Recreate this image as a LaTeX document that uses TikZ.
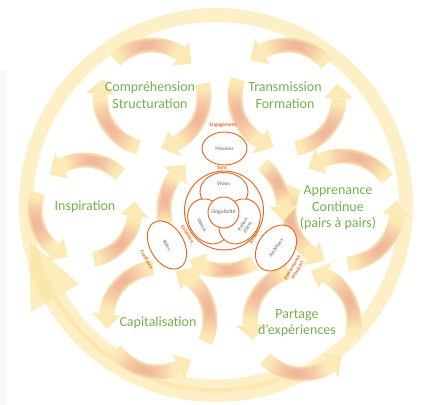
\documentclass[tikz,border=0pt]{standalone}
\usepackage{fontspec}
\setmainfont{Carlito}
\usetikzlibrary{calc}
\definecolor{arcY}{RGB}{252,234,182}
\definecolor{arcP}{RGB}{240,138,138}
\definecolor{ringY}{RGB}{252,228,160}
\definecolor{lblG}{RGB}{118,176,78}
\definecolor{orgL}{RGB}{230,104,34}
\definecolor{txtG}{RGB}{88,100,84}
% #1,#2 centre, #3 radius, #4 start angle, #5 end angle (arrow at end)
\newcommand{\garc}[5]{%
 \pgfmathsetmacro{\gS}{#4}%
 \pgfmathsetmacro{\gE}{#5}%
 \pgfmathsetmacro{\gD}{ifthenelse(#5>#4,1,-1)*15/(#3)*57.296}%
 \pgfmathsetmacro{\gB}{\gE-\gD}%
 \pgfmathsetmacro{\gM}{(\gS+\gB)/2}%
 \pgfmathsetmacro{\gL}{abs(\gB-\gS)/2}%
 \draw[line width=15pt,arcY] ($(#1,#2)+(\gS:#3)$) arc[start angle=\gS,end angle=\gB,radius=#3];
 \fill[arcY] ($(#1,#2)+(\gB:#3-14.5)$) -- ($(#1,#2)+(\gE:#3)$) -- ($(#1,#2)+(\gB:#3+14.5)$) -- cycle;
 \foreach \k in {0,...,11}{%
   \pgfmathsetmacro{\gh}{\gL*(0.8-0.062*\k)}%
   \pgfmathsetmacro{\gw}{15-0.8*\k}%
   \draw[line width=\gw pt,arcP,opacity=0.055] ($(#1,#2)+(\gM-\gh:#3)$) arc[start angle=\gM-\gh,end angle=\gM+\gh,radius=#3];
 }%
}
\tikzset{
 lbl/.style={text=lblG,font=\fontsize{14}{16.5}\selectfont,align=center,inner sep=0pt},
 small/.style={text=txtG,font=\fontsize{5.2}{5.8}\selectfont,align=center,inner sep=0pt},
 otext/.style={text=orgL,font=\bfseries\fontsize{5.2}{5.8}\selectfont,align=center,inner sep=0pt},
 oline/.style={draw=orgL,line width=0.95pt,fill=white}
}
\begin{document}
\begin{tikzpicture}[x=1pt,y=1pt]
\useasboundingbox (0,0) rectangle (424,405);
\fill[black!3] (0,0) rectangle (6,335);
% outer ring with arrow
\draw[ringY,line width=14pt,opacity=.6] (216,200) circle[radius=190];
\draw[ringY,line width=13pt,opacity=.6] ($(216,200)+(290:181)$) arc[start angle=290,end angle=210,radius=181];
\fill[ringY,opacity=.7] ($(216,200)+(210:158)$) -- ($(216,200)+(191:190)$) -- ($(216,200)+(210:214)$) -- cycle;
% Comprehension (cw)
\garc{152}{308}{52}{135}{40}
\garc{152}{308}{52}{15}{-80}
\garc{152}{308}{52}{255}{160}
% Transmission (ccw)
\garc{287}{308}{52}{40}{135}
\garc{287}{308}{52}{-80}{15}
\garc{287}{308}{52}{160}{255}
% Inspiration
\garc{85}{195}{50}{45}{135}
\garc{85}{195}{50}{160}{250}
\garc{85}{195}{50}{-80}{10}
% Apprenance
\garc{343}{195}{54}{35}{130}
\garc{343}{195}{54}{-85}{10}
\garc{343}{195}{54}{155}{250}
% Capitalisation
\garc{158}{85}{52}{-25}{70}
\garc{158}{85}{52}{95}{190}
\garc{158}{85}{52}{215}{310}
% Partage
\garc{302}{83}{52}{-15}{80}
\garc{302}{83}{52}{105}{200}
\garc{302}{83}{52}{225}{320}
% central group
\garc{224}{194.5}{60}{195}{130}
\garc{224}{194.5}{60}{300}{235}
\garc{224}{194.5}{60}{50}{-10}
% central orange diagram
\draw[oline] (224.5,256.5) ellipse[x radius=22.5,y radius=16.5];
\node[small] (missions) at (224.5,256.5) {Missions};
\node[otext] (engagement) at (223,280) {Engagement};
\draw[oline] (224,194.5) circle[radius=39.5];
\node[otext] (sens) at (222,237.5) {Sens};
\draw[oline] (224,213.5) ellipse[x radius=24,y radius=19];
\draw[oline] (208.4,183.6) ellipse[x radius=24,y radius=19,rotate=125];
\draw[oline] (239.6,183.6) ellipse[x radius=24,y radius=19,rotate=235];
\draw[oline] (223.5,192.5) circle[radius=15.5];
\node[small] (vision) at (223.5,221) {Vision};
\node[small,rotate=-62] (valeurs) at (202,180) {Valeurs};
\node[small,rotate=58] (raison) at (245,179) {Raison\\d'être};
\node[small,font=\fontsize{5.6}{6.3}\selectfont] (singularite) at (223.5,192.5) {Singularité};
\node[otext,rotate=-58] (cohesion) at (187.5,171) {Cohésion};
\node[otext,rotate=58] (action) at (254,167.5) {Action};
\draw[oline] (167,160) ellipse[x radius=26,y radius=17,rotate=-60];
\node[small,rotate=-60] (roles) at (167,160) {Rôles};
\node[otext,rotate=-60] (confiance) at (147,145) {Confiance};
\draw[oline] (276,157) ellipse[x radius=25,y radius=18,rotate=55];
\node[small,rotate=55] (ambitions) at (276,157) {Ambitions};
\node[otext,rotate=60] (perf) at (295,136) {Performance\\et impact};
% labels
\node[lbl] (compr) at (150,310) {Compréhension\\Structuration};
\node[lbl] (transm) at (285,310) {Transmission\\Formation};
\node[lbl] (inspir) at (85,198) {Inspiration};
\node[lbl] (appren) at (338,197) {Apprenance\\Continue\\(pairs à pairs)};
\node[lbl] (capit) at (158,82) {Capitalisation};
\node[lbl] (partage) at (297,82) {Partage\\d’expériences};
\end{tikzpicture}
\end{document}
